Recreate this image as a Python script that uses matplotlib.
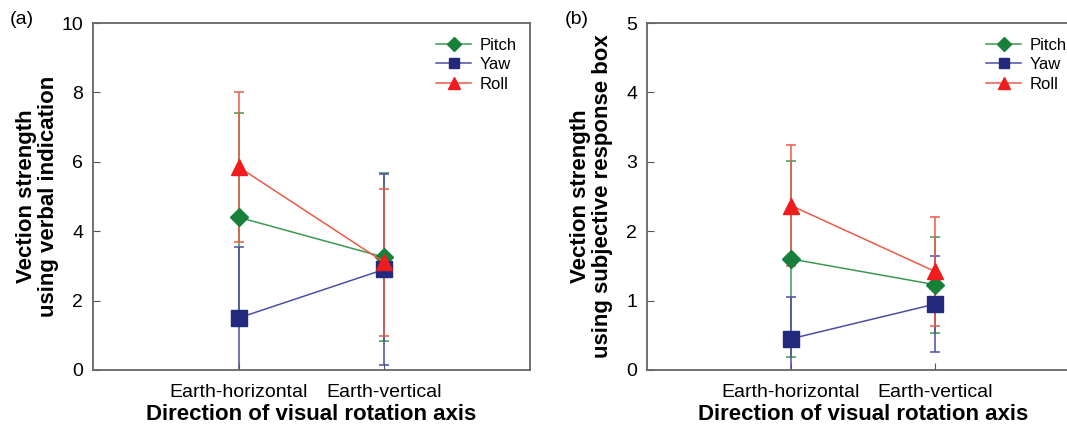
import matplotlib.pyplot as plt
import matplotlib.lines as mlines
import matplotlib.transforms as mtransforms

plt.rcParams['font.family'] = ['Liberation Sans', 'DejaVu Sans']

# Dados
categorias = ['Earth-horizontal', 'Earth-vertical']
series = ['Pitch', 'Yaw', 'Roll']

# (a) indicação verbal
verbal_media = {'Pitch': [4.4, 3.25], 'Yaw': [1.5, 2.9], 'Roll': [5.85, 3.1]}
verbal_erro = {'Pitch': [3.0, 2.42], 'Yaw': [2.05, 2.75], 'Roll': [2.15, 2.12]}

# (b) caixa de resposta subjetiva
caixa_media = {'Pitch': [1.6, 1.23], 'Yaw': [0.45, 0.95], 'Roll': [2.37, 1.42]}
caixa_erro = {'Pitch': [1.41, 0.69], 'Yaw': [0.6, 0.69], 'Roll': [0.87, 0.78]}

estilos = {
    'Pitch': dict(marker='D', ms=9, mfc='#17803a', mec='#17803a', line='#3c9a50'),
    'Yaw': dict(marker='s', ms=11, mfc='#232a7e', mec='#232a7e', line='#4a4fa0'),
    'Roll': dict(marker='^', ms=11, mfc='#ee1c1c', mec='#ee1c1c', line='#ec5a48'),
}
ms_legenda = {'Pitch': 7.5, 'Yaw': 7, 'Roll': 8}

fig = plt.figure(figsize=(10.67, 4.32), dpi=100)
W, H = 1067, 432


def painel(ax_px, medias, erros, ymax, passo, ylabel, letra, letra_x):
    x0, x1, y0, y1 = ax_px
    largura = x1 - x0
    ax = fig.add_axes([x0 / W, (H - y1) / H, largura / W, (y1 - y0) / H])
    xs = [1, 2]
    for s in series:
        e = estilos[s]
        ax.errorbar(xs, medias[s], yerr=erros[s], color=e['line'], lw=1.1,
                    elinewidth=1.1, capsize=3.5, capthick=1.1,
                    marker=e['marker'], ms=e['ms'], mfc=e['mfc'], mec=e['mec'])
    ax.set_xlim(0, 3)
    ax.set_ylim(0, ymax)
    ax.set_yticks([i * passo for i in range(int(ymax / passo) + 1)])
    ax.set_xticks(xs)
    ax.set_xticklabels(categorias, fontsize=14)
    # primeiro rótulo ligeiramente à esquerda, como no original
    desloc = mtransforms.ScaledTranslation(-8 / 100, 0, fig.dpi_scale_trans)
    rot = ax.get_xticklabels()[0]
    rot.set_transform(rot.get_transform() + desloc)
    ax.tick_params(axis='y', direction='in', length=5, labelsize=14, pad=7, color='#555555')
    ax.tick_params(axis='x', direction='in', length=5, pad=10, color='#555555')
    for sp in ax.spines.values():
        sp.set_color('#666666')
        sp.set_linewidth(1.3)
    ax.set_xlabel('Direction of visual rotation axis', fontsize=16, fontweight='bold')
    ax.xaxis.set_label_coords(0.5, -45 / (y1 - y0))
    ax.xaxis.label.set_va('center')
    ax.set_ylabel(ylabel, fontsize=16, fontweight='bold', linespacing=1.05)
    ax.yaxis.set_label_coords(-34 / largura, 0.5)

    # Legenda sem barras de erro
    handles = []
    for s in series:
        e = estilos[s]
        handles.append(mlines.Line2D([], [], color=e['line'], lw=1.1, marker=e['marker'],
                                     ms=ms_legenda[s], mfc=e['mfc'], mec=e['mec'], label=s))
    ax.legend(handles=handles, loc='upper left', bbox_to_anchor=(0.785, 0.958), frameon=False,
              fontsize=12, handlelength=2.1, handletextpad=0.5, labelspacing=0.27,
              borderpad=0, borderaxespad=0)
    fig.text(letra_x / W, (H - 20) / H, letra, fontsize=14, ha='left', va='center')
    return ax


painel((93, 530, 23, 370), verbal_media, verbal_erro, 10, 2,
       'Vection strength\nusing verbal indication', '(a)', 10)
painel((647, 1079, 23, 370), caixa_media, caixa_erro, 5, 1,
       'Vection strength\nusing subjective response box', '(b)', 565)

fig.savefig('out.png', dpi=100)
